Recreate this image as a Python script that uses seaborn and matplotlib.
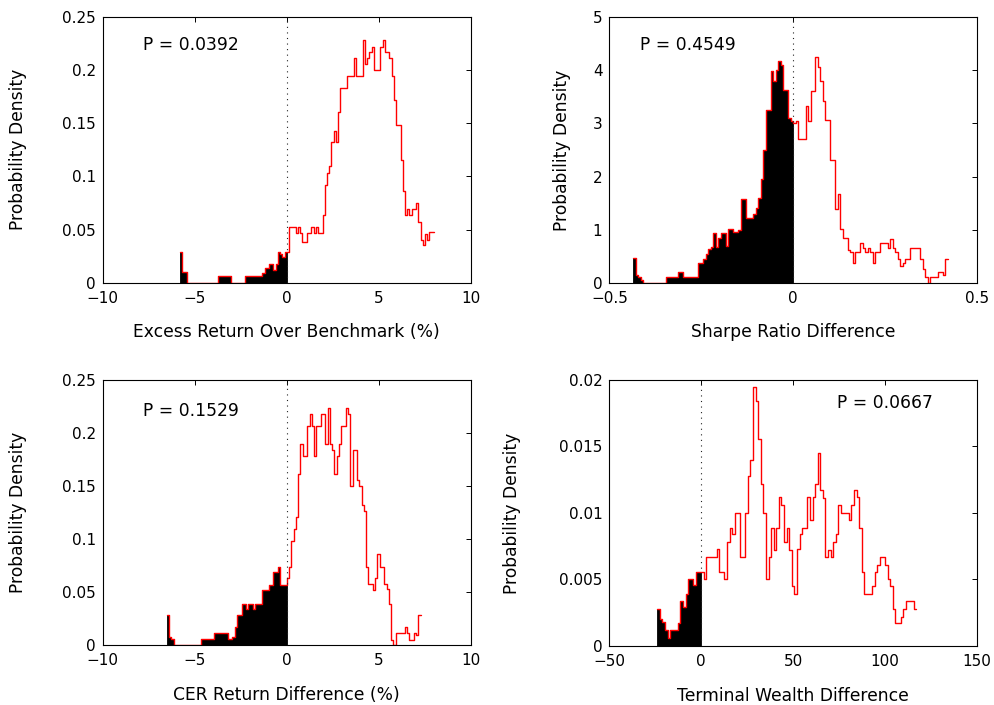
import numpy as np
import pandas as pd
import matplotlib
matplotlib.use("Agg")
import matplotlib.pyplot as plt
import seaborn as sns
from matplotlib.ticker import FuncFormatter

# --- data (probability density per bin) ---
x_labels = ["Excess Return Over Benchmark (%)", "Sharpe Ratio Difference",
            "CER Return Difference (%)", "Terminal Wealth Difference"]
p_values = ["0.0392", "0.4549", "0.1529", "0.0667"]

# width of one stair step in each panel
bin_widths = [0.121, 0.0068, 0.123, 1.41]

# panel 1: excess return, bins left of zero (ending at 0) and right of zero (starting at 0)
excess_neg = [0.029, 0.010, 0.010,
              0.0, 0.0, 0.0, 0.0, 0.0, 0.0, 0.0, 0.0, 0.0, 0.0, 0.0, 0.0, 0.0, 0.0,
              0.0063, 0.0063, 0.0063, 0.0063, 0.0063, 0.0063,
              0.0, 0.0, 0.0, 0.0, 0.0, 0.0,
              0.0063, 0.0063, 0.0063, 0.0063, 0.0063, 0.0063, 0.0063, 0.0063,
              0.009, 0.0135, 0.0135, 0.018, 0.018, 0.012, 0.018, 0.029, 0.027, 0.024, 0.029]
excess_pos = [0.029, 0.052, 0.052, 0.052, 0.047, 0.052, 0.047, 0.038, 0.038, 0.047,
              0.047, 0.052, 0.047, 0.052, 0.047, 0.047, 0.064, 0.092, 0.103, 0.110,
              0.132, 0.143, 0.132, 0.160, 0.183, 0.183, 0.183, 0.194, 0.194, 0.194,
              0.211, 0.194, 0.194, 0.194, 0.228, 0.206, 0.211, 0.217, 0.222, 0.200,
              0.200, 0.200, 0.222, 0.228, 0.217, 0.217, 0.211, 0.194, 0.172, 0.148,
              0.148, 0.115, 0.086, 0.064, 0.069, 0.064, 0.069, 0.069, 0.075, 0.057,
              0.040, 0.035, 0.046, 0.040, 0.048, 0.048]

# panel 2: sharpe ratio difference
sharpe_neg = [0.47, 0.15, 0.10, 0.05, 0.0, 0.0, 0.0, 0.0, 0.0, 0.0, 0.0, 0.0, 0.0,
              0.10, 0.10, 0.10, 0.10, 0.10, 0.20, 0.20, 0.10, 0.10, 0.10, 0.10, 0.10,
              0.10, 0.38, 0.38, 0.45, 0.55, 0.63, 0.67, 0.93, 0.67, 0.85, 0.93, 0.93,
              0.70, 1.02, 1.02, 0.95, 0.95, 1.00, 1.58, 1.58, 1.22, 1.22, 1.22, 1.30,
              1.40, 1.60, 1.95, 2.50, 3.25, 3.25, 3.98, 3.80, 4.00, 4.17, 4.10, 3.63,
              3.63, 3.10, 3.05]
sharpe_pos = [3.00, 3.05, 2.70, 2.70, 2.70, 3.33, 3.05, 3.62, 3.62, 4.26,
              4.06, 3.80, 3.43, 3.07, 3.07, 2.31, 2.31, 1.39, 1.68, 1.02,
              0.84, 0.84, 0.62, 0.58, 0.38, 0.58, 0.58, 0.74, 0.65, 0.58,
              0.65, 0.58, 0.38, 0.58, 0.58, 0.74, 0.74, 0.74, 0.66, 0.83,
              0.66, 0.58, 0.45, 0.31, 0.38, 0.45, 0.45, 0.65, 0.65, 0.65,
              0.65, 0.45, 0.25, 0.10, 0.0, 0.10, 0.10, 0.10, 0.20, 0.20,
              0.15, 0.45]

# panel 3: CER return difference
cer_neg = [0.028, 0.008, 0.0053, 0.0, 0.0, 0.0, 0.0, 0.0, 0.0, 0.0, 0.0, 0.0, 0.0,
           0.0, 0.0, 0.0053, 0.0053, 0.0053, 0.0053, 0.0053, 0.0053, 0.011, 0.011,
           0.011, 0.011, 0.011, 0.011, 0.0053, 0.0053, 0.008, 0.017, 0.028, 0.028,
           0.039, 0.039, 0.034, 0.039, 0.039, 0.034, 0.039, 0.039, 0.039, 0.052,
           0.052, 0.052, 0.057, 0.057, 0.069, 0.069, 0.074, 0.057, 0.057, 0.057]
cer_pos = [0.063, 0.074, 0.098, 0.109, 0.121, 0.161, 0.190, 0.178, 0.178, 0.207,
           0.218, 0.207, 0.178, 0.207, 0.207, 0.218, 0.218, 0.190, 0.224, 0.190,
           0.184, 0.161, 0.178, 0.190, 0.207, 0.207, 0.224, 0.218, 0.150, 0.184,
           0.184, 0.156, 0.150, 0.132, 0.126, 0.074, 0.058, 0.058, 0.052, 0.063,
           0.086, 0.074, 0.074, 0.058, 0.053, 0.039, 0.005, 0.0, 0.011, 0.011,
           0.011, 0.011, 0.017, 0.011, 0.005, 0.005, 0.011, 0.009, 0.028]

# panel 4: terminal wealth difference
wealth_neg = [0.0028, 0.0020, 0.0018, 0.0012, 0.0006, 0.0012, 0.0012, 0.0012, 0.0017,
              0.0034, 0.0029, 0.0039, 0.0050, 0.0050, 0.0046, 0.0056, 0.0056]
wealth_pos = [0.0056, 0.0050, 0.0067, 0.0067, 0.0067, 0.0067, 0.0073, 0.0056, 0.0056, 0.0050,
              0.0078, 0.0089, 0.0084, 0.0100, 0.0100, 0.0067, 0.0067, 0.0100, 0.0128, 0.0140,
              0.0195, 0.0184, 0.0156, 0.0122, 0.0100, 0.0050, 0.0067, 0.0089, 0.0072, 0.0089,
              0.0112, 0.0106, 0.0078, 0.0089, 0.0072, 0.0045, 0.0039, 0.0073, 0.0084, 0.0089,
              0.0089, 0.0112, 0.0095, 0.0112, 0.0122, 0.0145, 0.0117, 0.0111, 0.0067, 0.0072,
              0.0067, 0.0078, 0.0084, 0.0106, 0.0100, 0.0100, 0.0100, 0.0095, 0.0106, 0.0117,
              0.0112, 0.0089, 0.0056, 0.0039, 0.0039, 0.0039, 0.0045, 0.0056, 0.0061, 0.0067,
              0.0067, 0.0061, 0.0050, 0.0045, 0.0028, 0.0017, 0.0017, 0.0022, 0.0028, 0.0034,
              0.0034, 0.0034, 0.0028]

neg_parts = [excess_neg, sharpe_neg, cer_neg, wealth_neg]
pos_parts = [excess_pos, sharpe_pos, cer_pos, wealth_pos]

x_limits = [(-10, 10), (-0.5, 0.5), (-10, 10), (-50, 150)]
x_ticks = [[-10, -5, 0, 5, 10], [-0.5, 0, 0.5], [-10, -5, 0, 5, 10], [-50, 0, 50, 100, 150]]
y_tops = [0.25, 5, 0.25, 0.02]
y_steps = [0.05, 1, 0.05, 0.005]

# --- style ---
sns.set_style("white")
plt.rcParams["font.family"] = ["DejaVu Sans"]
plt.rcParams["text.color"] = "black"
plt.rcParams["axes.labelcolor"] = "black"
plt.rcParams["xtick.direction"] = "in"
plt.rcParams["ytick.direction"] = "in"
plt.rcParams["xtick.top"] = True
plt.rcParams["ytick.right"] = True

fig = plt.figure(figsize=(9.95, 7.05), dpi=100)
positions = [[0.1032, 0.599, 0.3702, 0.3773], [0.6124, 0.599, 0.3692, 0.3765],
             [0.1032, 0.0851, 0.3702, 0.3759], [0.6124, 0.0837, 0.3692, 0.3773]]
p_pos = [(0.109, 0.894), (0.0836, 0.894), (0.109, 0.884), (0.619, 0.912)]
ylabel_x = [-0.206, -0.104, -0.206, -0.241]
xlabel_y = [-0.153, -0.153, -0.153, -0.153]

fmt = FuncFormatter(lambda v, pos: ("%g" % v).replace("-", "\u2212"))

for i in range(4):
    ax = fig.add_axes(positions[i])
    w = bin_widths[i]
    neg = neg_parts[i]
    pos = pos_parts[i]
    neg_edges = w * (np.arange(len(neg) + 1) - len(neg))
    all_edges = w * (np.arange(len(neg) + len(pos) + 1) - len(neg))
    df = pd.DataFrame({"x": (all_edges[:-1] + all_edges[1:]) / 2,
                       "density": neg + pos})
    df_neg = df.iloc[:len(neg)]

    # red stairs over the whole range, black filled part below zero
    sns.histplot(data=df, x="x", weights="density", bins=list(all_edges), element="step",
                 fill=False, color="red", linewidth=1.0, ax=ax)
    sns.histplot(data=df_neg, x="x", weights="density", bins=list(neg_edges), element="step",
                 fill=True, color="black", alpha=1, linewidth=0.6, ax=ax)
    ax.axvline(0, color="#222222", linestyle=(0, (1, 4)), linewidth=0.8)

    ax.set_xlim(*x_limits[i])
    ax.set_ylim(0, y_tops[i])
    ax.set_xticks(x_ticks[i])
    ax.set_yticks(np.arange(0, y_tops[i] + y_steps[i] / 2, y_steps[i]))
    ax.xaxis.set_major_formatter(fmt)
    ax.yaxis.set_major_formatter(fmt)
    ax.tick_params(length=3.5, width=0.7, labelsize=11, colors="black")
    ax.tick_params(axis="x", pad=6)
    ax.tick_params(axis="y", pad=5)
    for s in ax.spines.values():
        s.set_linewidth(0.8)
        s.set_color("black")

    ax.set_ylabel("Probability Density", fontsize=12.3, color="black")
    ax.set_xlabel(x_labels[i], fontsize=12.3, color="black")
    ax.yaxis.set_label_coords(ylabel_x[i], 0.5)
    ax.xaxis.set_label_coords(0.5, xlabel_y[i])
    ax.text(p_pos[i][0], p_pos[i][1], "P = " + p_values[i], transform=ax.transAxes,
            fontsize=12.3, va="center", ha="left", color="black")

fig.savefig("out.png", dpi=100)
